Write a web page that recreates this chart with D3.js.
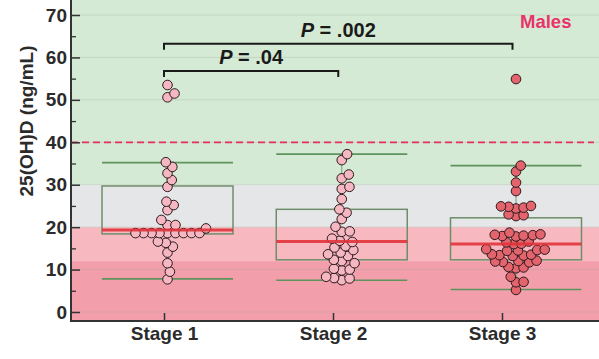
<!DOCTYPE html>
<html><head><meta charset="utf-8">
<script src="https://cdn.jsdelivr.net/npm/d3@7"></script>
<style>body{margin:0;background:#fff}svg{display:block}text{font-family:"Liberation Sans",Arial,Helvetica,sans-serif;font-weight:bold}</style>
</head><body><svg id="c" width="599" height="359"></svg>
<script>
// ---------------- data ----------------
const stages = ["Stage 1", "Stage 2", "Stage 3"];
const stage1Values = [53.5, 51.5, 50.6, 35.3, 34.2, 32.7, 31.1, 29.5, 26.0, 25.2, 24.0, 21.7, 20.5, 20.5, 19.7,
  18.6, 18.6, 18.6, 18.6, 18.6, 18.6, 18.6, 18.6, 18.6, 16.6, 16.3, 15.4, 14.0, 11.5, 9.5, 7.7];
const stage2Values = [37.2, 35.8, 32.4, 31.5, 29.5, 29.0, 26.6, 24.2, 23.4, 21.9, 20.1, 19.0, 18.9, 17.3, 16.8, 16.5,
  15.5, 15.2, 14.6, 14.0, 13.6, 13.2, 12.3, 12.0, 11.5, 10.2, 10.0, 9.8, 8.3, 8.0, 7.9, 7.5];
const stage3Values = [54.9, 34.5, 33.1, 30.5, 28.5, 25.0, 24.8, 24.6, 24.9, 24.4, 23.0, 22.8, 22.6, 18.7, 18.2, 18.0,
  17.9, 18.1, 17.8, 18.3, 16.4, 16.1, 16.0, 16.6, 14.8, 14.6, 14.4, 14.7, 14.5, 13.5, 13.3, 13.6, 13.2, 13.4, 12.0,
  11.8, 12.1, 11.7, 11.9, 10.5, 10.3, 10.6, 8.3, 7.1, 7.0, 5.2];
const medians = [19.3, 16.6, 16.0];
const q1 = [18.4, 12.3, 12.3];
const q3 = [29.7, 24.2, 22.2];
const whiskerLow = [7.8, 7.5, 5.3];
const whiskerHigh = [35.2, 37.2, 34.5];
const yTicks = [0, 10, 20, 30, 40, 50, 60, 70];
const yMinorTicks = [5, 15, 25, 35, 45, 55, 65];
const bandBreaks = [12, 20, 30];
const thresholdValue = 40;
const comparisons = [
  {from: "Stage 1", to: "Stage 3", p: ".002"},
  {from: "Stage 1", to: "Stage 2", p: ".04"}
];
const groupLabel = "Males";
const yTitle = "25(OH)D (ng/mL)";

// ---------------- layout ----------------
const W = 599, H = 359;
const L = 71, R = 599, T = 0, B = 321;
const svg = d3.select("#c");
const y = d3.scaleLinear().domain([0, 70]).range([312, 15]);
const xMark = d3.scalePoint().domain(stages).range([167.5, 516]);
const xAxisS = d3.scalePoint().domain(stages).range([164, 502]);
const allValues = [stage1Values, stage2Values, stage3Values];

// background bands
const vTop = y.invert(T), vBot = y.invert(B);
const edges = [vBot, ...bandBreaks, vTop];
const bandColors = ["#f29fab", "#f7b8c0", "#e5e6e8", "#d5ead4"];
svg.append("g").selectAll("rect").data(d3.range(edges.length - 1)).join("rect")
  .attr("x", L).attr("width", R - L)
  .attr("y", i => y(edges[i + 1])).attr("height", i => y(edges[i]) - y(edges[i + 1]))
  .attr("fill", i => bandColors[i]);

// grid lines
svg.append("g").selectAll("line").data(yTicks).join("line")
  .attr("x1", L).attr("x2", R).attr("y1", d => y(d)).attr("y2", d => y(d))
  .attr("stroke", "#9aa59a").attr("stroke-opacity", 0.3).attr("stroke-width", 1);

// threshold dashed line
svg.append("line").attr("x1", L).attr("x2", 594)
  .attr("y1", y(thresholdValue)).attr("y2", y(thresholdValue))
  .attr("stroke", "#e3305c").attr("stroke-width", 1.8).attr("stroke-dasharray", "7,4");

// boxes
const hw = 65.5;
const g = svg.append("g");
stages.forEach((s, i) => {
  const cx = xMark(s);
  g.append("line").attr("x1", cx).attr("x2", cx).attr("y1", y(q3[i])).attr("y2", y(whiskerHigh[i]))
    .attr("stroke", "#6f9f6f").attr("stroke-width", 1);
  g.append("line").attr("x1", cx).attr("x2", cx).attr("y1", y(q1[i])).attr("y2", y(whiskerLow[i]))
    .attr("stroke", "#6f9f6f").attr("stroke-width", 1);
  [whiskerHigh[i], whiskerLow[i]].forEach(v => {
    g.append("line").attr("x1", cx - hw).attr("x2", cx + hw).attr("y1", y(v)).attr("y2", y(v))
      .attr("stroke", "#5e935e").attr("stroke-width", 1.6);
  });
  g.append("rect").attr("x", cx - hw).attr("width", 2 * hw)
    .attr("y", y(q3[i])).attr("height", y(q1[i]) - y(q3[i]))
    .attr("fill", "none").attr("stroke", "#6e8e6a").attr("stroke-width", 1.5);
});

// beeswarm
function swarm(values, D) {
  const pts = values.map(v => ({v, py: y(v)})).sort((a, b) => b.py - a.py);
  const placed = [];
  for (const p of pts) {
    const cands = [0];
    for (const q of placed) {
      const dy = Math.abs(q.py - p.py);
      if (dy < D) { const dx = Math.sqrt(D * D - dy * dy); cands.push(q.dx + dx, q.dx - dx); }
    }
    cands.sort((a, b) => Math.abs(a) - Math.abs(b));
    for (const c of cands) {
      if (placed.every(q => { const dx = q.dx - c, dy = q.py - p.py; return dx * dx + dy * dy >= D * D - 1e-6; })) { p.dx = c; break; }
    }
    placed.push(p);
  }
  return placed;
}
const pointFill = ["#f5b7c1", "#f5b7c1", "#e4646e"];
const swarmGap = [8, 8, 7.6];
stages.forEach((s, i) => {
  const pts = swarm(allValues[i], swarmGap[i]);
  svg.append("g").selectAll("circle").data(pts).join("circle")
    .attr("cx", d => xMark(s) + d.dx).attr("cy", d => d.py).attr("r", 4.8)
    .attr("fill", pointFill[i]).attr("stroke", "#2a1a1c").attr("stroke-width", 1);
});

// medians
svg.append("g").selectAll("line").data(stages).join("line")
  .attr("x1", d => xMark(d) - hw).attr("x2", d => xMark(d) + hw)
  .attr("y1", (d, i) => y(medians[i])).attr("y2", (d, i) => y(medians[i]))
  .attr("stroke", "#e0333a").attr("stroke-width", 3).attr("stroke-opacity", 0.9);

// comparison brackets
const bracketLevels = [63.2, 56.8];
comparisons.forEach((c, i) => {
  const x1 = xMark(c.from) - 3.5, x2 = xMark(c.to) - 3.5, yy = y(bracketLevels[i]);
  svg.append("path").attr("d", `M${x1},${yy + 6}V${yy}H${x2}V${yy + 6}`)
    .attr("fill", "none").attr("stroke", "#1a1a1a").attr("stroke-width", 2);
  const t = svg.append("text").attr("x", (x1 + x2) / 2).attr("y", yy - 7)
    .attr("text-anchor", "middle").attr("font-size", 20).attr("fill", "#1a1a1a");
  t.append("tspan").attr("font-style", "italic").text("P");
  t.append("tspan").text(" = " + c.p);
});

// group label
svg.append("text").attr("x", 520).attr("y", 28).attr("font-size", 18.5).attr("fill", "#e8336b").text(groupLabel);

// axes
const ya = svg.append("g").attr("transform", `translate(${L},0)`)
  .call(d3.axisLeft(y).tickValues(yTicks).tickSize(-9).tickPadding(4));
ya.select(".domain").remove();
ya.selectAll("line").attr("stroke", "#333").attr("stroke-width", 1.5);
ya.selectAll("text").attr("font-size", 19).attr("fill", "#2b2b2b").attr("font-family", null);
const ym = svg.append("g").attr("transform", `translate(${L},0)`)
  .call(d3.axisLeft(y).tickValues(yMinorTicks).tickSize(-5).tickFormat(""));
ym.select(".domain").remove();
ym.selectAll("line").attr("stroke", "#333").attr("stroke-width", 1.3);

const xa = svg.append("g").attr("transform", `translate(0,${B})`)
  .call(d3.axisBottom(xAxisS).tickSize(-8).tickPadding(6));
xa.select(".domain").remove();
xa.selectAll("line").attr("stroke", "#333").attr("stroke-width", 1.5);
xa.selectAll("text").attr("font-size", 19).attr("fill", "#2b2b2b").attr("font-family", null);

svg.append("path").attr("d", `M${L},${T}V${B}H${R}`).attr("fill", "none")
  .attr("stroke", "#333").attr("stroke-width", 2);

svg.append("text").attr("transform", "translate(26,121) rotate(-90)").attr("dy", "0.35em")
  .attr("text-anchor", "middle").attr("font-size", 19).attr("fill", "#2b2b2b").text(yTitle);
</script></body></html>
